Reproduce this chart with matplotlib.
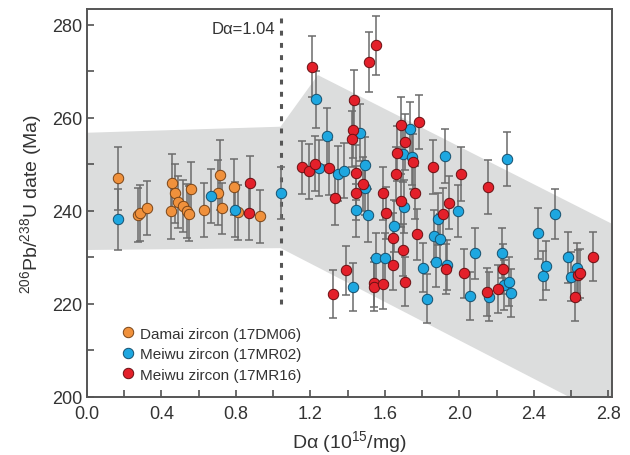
import numpy as np
import matplotlib
matplotlib.use("Agg")
import matplotlib.pyplot as plt
from matplotlib.patches import Polygon

plt.rcParams['font.family'] = ['Liberation Sans', 'DejaVu Sans']
plt.rcParams['mathtext.default'] = 'regular'

# --- data ---
dm06_x = [0.168, 0.275, 0.285, 0.320, 0.454, 0.472, 0.449, 0.490, 0.513, 0.538,
          0.547, 0.556, 0.627, 0.704, 0.717, 0.727, 0.790, 0.811, 0.929]
dm06_y = [247.0, 239.1, 239.5, 240.6, 246.1, 243.8, 239.9, 241.9, 241.1, 239.9,
          239.4, 244.7, 240.2, 243.9, 247.7, 240.6, 245.1, 239.7, 238.8]
dm06_err = [6.7, 5.8, 6.0, 5.8, 6.2, 6.3, 6.0, 5.6, 5.6, 5.8,
            5.9, 5.8, 5.8, 7.0, 7.5, 5.5, 6.0, 5.9, 5.7]

mr02_x = [0.168, 0.665, 0.793, 1.044, 1.232, 1.289, 1.244, 1.348, 1.383, 1.469,
          1.491, 1.491, 1.735, 1.696, 1.746, 1.923, 1.446, 1.508, 1.705, 1.648,
          1.991, 1.887, 1.866, 1.898, 1.550, 1.603, 1.428, 1.803, 1.825, 1.875,
          1.932, 2.082, 2.059, 2.256, 2.227, 2.238, 2.268, 2.277, 2.161, 2.420,
          2.515, 2.468, 2.447, 2.586, 2.631, 2.602]
mr02_y = [238.2, 243.2, 240.3, 243.8, 264.0, 256.0, 249.3, 248.0, 248.6, 256.8,
          249.9, 244.9, 257.6, 252.2, 251.5, 251.9, 240.1, 239.1, 240.9, 236.8,
          240.0, 238.3, 234.6, 233.9, 229.8, 229.8, 223.7, 227.8, 221.1, 229.1,
          228.4, 230.9, 221.7, 251.1, 230.9, 224.1, 224.8, 222.3, 221.6, 235.2,
          239.3, 228.2, 226.1, 230.0, 227.7, 225.9]
mr02_err = [6.5, 5.8, 6.0, 5.6, 6.1, 6.2, 6.0, 5.9, 5.9, 6.1,
            5.9, 5.8, 5.9, 6.0, 5.9, 5.8, 5.7, 5.7, 5.7, 5.6,
            5.6, 5.6, 5.5, 5.5, 5.4, 5.4, 5.2, 5.3, 5.3, 5.4,
            5.4, 5.5, 5.1, 5.8, 5.4, 5.3, 5.3, 5.2, 5.2, 5.5,
            5.4, 5.3, 5.3, 5.4, 5.3, 5.3]

mr16_x = [0.874, 0.870, 1.208, 1.157, 1.192, 1.226, 1.298, 1.333, 1.432, 1.428,
          1.425, 1.446, 1.482, 1.446, 1.517, 1.551, 1.592, 1.687, 1.710, 1.784,
          1.664, 1.753, 1.661, 1.760, 1.857, 2.010, 1.687, 1.607, 1.643, 1.700,
          1.771, 1.943, 1.914, 1.643, 1.392, 1.321, 1.544, 1.544, 1.589, 1.710,
          1.929, 2.023, 2.152, 2.232, 2.148, 2.209, 2.640, 2.647, 2.622, 2.720]
mr16_y = [246.0, 239.5, 271.0, 249.4, 248.5, 250.1, 249.3, 242.7, 263.8, 257.4,
          255.4, 248.2, 245.8, 243.9, 272.0, 275.6, 243.8, 258.5, 254.8, 259.1,
          252.4, 250.6, 248.0, 243.9, 249.4, 248.0, 242.2, 239.5, 234.1, 231.6,
          235.0, 241.8, 239.4, 228.4, 227.2, 222.1, 224.6, 223.7, 224.3, 224.8,
          227.5, 226.6, 245.2, 227.5, 222.6, 223.2, 226.2, 226.6, 221.6, 230.2]
mr16_err = [5.8, 5.8, 6.5, 5.7, 5.9, 5.9, 5.9, 5.7, 6.4, 6.1,
            6.0, 5.9, 5.8, 5.8, 6.5, 6.4, 5.7, 5.9, 6.0, 5.8,
            5.9, 5.9, 5.8, 5.7, 5.8, 5.8, 5.7, 5.6, 5.5, 5.5,
            5.5, 5.7, 5.6, 5.4, 5.2, 5.2, 5.3, 5.3, 5.3, 5.3,
            5.4, 5.3, 5.8, 5.4, 5.2, 5.2, 5.3, 5.3, 5.2, 5.3]

# grey envelope (Dα, age) corners, right side runs past the frame
band_x = [0.0, 1.04, 1.24, 2.90, 2.90, 1.04, 0.0]
band_y = [256.8, 258.1, 269.2, 235.6, 193.6, 232.0, 231.6]

d_alpha = 1.04

series = [
    (dm06_x, dm06_y, dm06_err, '#f0913c', '#7a4518', 'Damai zircon (17DM06)'),
    (mr02_x, mr02_y, mr02_err, '#1ea7e0', '#16506e', 'Meiwu zircon (17MR02)'),
    (mr16_x, mr16_y, mr16_err, '#e3202a', '#6a0f12', 'Meiwu zircon (17MR16)'),
]

fig = plt.figure(figsize=(6.3, 4.56), dpi=100)
ax = fig.add_axes([87/630, 58/456, 525/630, 388/456])

ax.add_patch(Polygon(np.column_stack([band_x, band_y]), closed=True,
                     facecolor='#dcdddd', edgecolor='none', zorder=0))

ax.plot([d_alpha, d_alpha], [220, 281.5], color='#555555', lw=2.2,
        dashes=(1.6, 2.4), zorder=1)
ax.text(d_alpha - 0.03, 279.2, 'D\u03b1=1.04', ha='right', va='center',
        fontsize=12, color='#333333')

for x, y, e, fc, ec, lab in series:
    ax.errorbar(x, y, yerr=e, fmt='none', ecolor='#6b6b6b', elinewidth=1.1,
                capsize=3.2, capthick=1.1, zorder=2)
for x, y, e, fc, ec, lab in series:
    ax.plot(x, y, 'o', ms=7.5, mfc=fc, mec=ec, mew=0.7, ls='none',
            label=lab, zorder=3)

ax.set_xlim(0, 2.82)
ax.set_ylim(200, 283.4)
ax.set_xticks(np.arange(0, 2.81, 0.4))
ax.set_xticks(np.arange(0.2, 2.81, 0.4), minor=True)
ax.set_yticks(np.arange(200, 281, 20))
ax.set_yticks(np.arange(210, 281, 20), minor=True)
ax.xaxis.set_major_formatter(matplotlib.ticker.FormatStrFormatter('%.1f'))
ax.tick_params(which='both', direction='in', length=5, width=1.1,
               color='#444444', labelsize=13, labelcolor='#333333')
ax.tick_params(axis='x', pad=6)
for s in ax.spines.values():
    s.set_color('#555555')
    s.set_linewidth(1.4)

ax.set_xlabel('D\u03b1 (10$^{15}$/mg)', fontsize=14, color='#333333', labelpad=4)
ax.set_ylabel('$^{206}$Pb/$^{238}$U date (Ma)', fontsize=14, color='#333333',
              labelpad=6)

ax.legend(loc='lower left', bbox_to_anchor=(0.04, 0.012), frameon=False,
          fontsize=11, handletextpad=0.2, labelspacing=0.42, borderpad=0.2,
          handlelength=1.2, labelcolor='#333333')

fig.savefig('out.png', dpi=100)
